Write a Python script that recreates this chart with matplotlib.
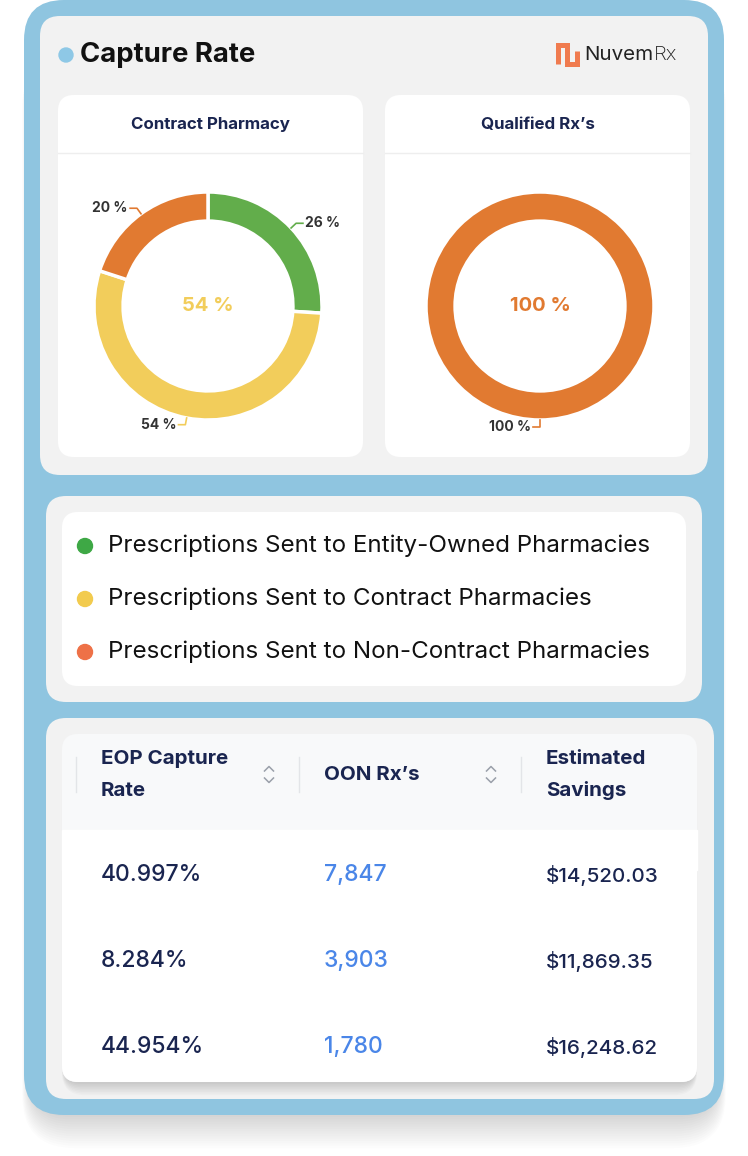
import numpy as np
import matplotlib
matplotlib.use('Agg')
from matplotlib import pyplot as plt
from matplotlib.patches import FancyBboxPatch, Circle

plt.rcParams['font.family'] = ['Inter', 'DejaVu Sans']

# data
contract_values = [26, 54, 20]
contract_colors = ['#62AD4B', '#F2CD5B', '#E17A31']
qualified_values = [100]
qualified_colors = ['#E17A31']
legend_labels = ['Prescriptions Sent to Entity-Owned Pharmacies',
                 'Prescriptions Sent to Contract Pharmacies',
                 'Prescriptions Sent to Non-Contract Pharmacies']
legend_colors = ['#3EA845', '#F2CB4E', '#EE7147']
table_headers = ['EOP Capture\nRate', 'OON Rx\u2019s', 'Estimated\nSavings']
capture_rates = ['40.997%', '8.284%', '44.954%']
oon_rx = [7847, 3903, 1780]
savings = [14520.03, 11869.35, 16248.62]

NAVY = '#1A2550'
W, H = 748, 1156
fig = plt.figure(figsize=(W / 100, H / 100), dpi=100)
bg = fig.add_axes([0, 0, 1, 1])
bg.set_xlim(0, W)
bg.set_ylim(H, 0)
bg.axis('off')


def rbox(x0, y0, x1, y1, r, color, **kw):
    bg.add_patch(FancyBboxPatch((x0, y0), x1 - x0, y1 - y0,
                                boxstyle=f'round,pad=0,rounding_size={r}',
                                fc=color, ec='none', **kw))


# outer card with soft shadow (mostly below)
for i in range(14):
    rbox(30 - i * 0.6, 40 + i, 718 + i * 0.6, 1117 + i * 2.4, 40 + i, '#000000', alpha=0.010)
rbox(24, 0, 724, 1115, 40, '#8FC5E0')

# top panel
rbox(40, 16, 708, 475, 20, '#F2F2F2')
bg.add_patch(Circle((66, 55), 7, color='#8EC8E6'))
bg.text(80, 55, 'Capture Rate', fontsize=19.8, fontweight='bold', color='#111111', va='center')
# logo
bg.plot([558, 558, 567, 567, 577, 577], [64, 45, 45, 64, 64, 51], color='#F07B4F',
        lw=3.6, solid_joinstyle='miter', solid_capstyle='butt')
t = bg.text(584, 55, 'Nuvem', fontsize=14.8, color='#222222', va='center')
fig.canvas.draw()
ext = t.get_window_extent()
bg.text(584 + ext.width + 0.5, 55, 'Rx', fontsize=14.8, color='#222222', va='center',
        fontweight='light')

cards = [(58, 363, 'Contract Pharmacy'), (385, 690, 'Qualified Rx\u2019s')]
for x0, x1, title in cards:
    rbox(x0, 95, x1, 457, 16, 'white')
    bg.plot([x0, x1], [153, 153], color='#EEEEEE', lw=1)
    bg.text((x0 + x1) / 2, 125, title, fontsize=12.2, fontweight='bold', color=NAVY,
            ha='center', va='center')


def donut(cx, cy, values, colors, center_text, center_color):
    R = 114
    ax = fig.add_axes([(cx - R) / W, 1 - (cy + R) / H, 2 * R / W, 2 * R / H])
    ax.pie(values, colors=colors, startangle=90, counterclock=False, radius=1,
           wedgeprops=dict(width=0.255, edgecolor='white', linewidth=2.5))
    ax.set_xlim(-1, 1)
    ax.set_ylim(-1, 1)
    ax.set_aspect('equal')
    ax.text(0, 0, center_text, fontsize=14.5, fontweight='bold', color=center_color,
            ha='center', va='center')
    total = sum(values)
    start = 90.0
    for v, c in zip(values, colors):
        mid = np.deg2rad(start - v / total * 180)
        start -= v / total * 360
        x, y = np.cos(mid), np.sin(mid)
        side = 1 if x > 0.01 else -1
        x2, y2 = 1.06 * x, 1.06 * y
        x3 = x2 + side * 0.06
        ax.plot([x, x2, x3], [y, y2, y2], color=c, lw=1.2, clip_on=False)
        ax.text(x3 + side * 0.02, y2, f'{v} %', fontsize=10, fontweight='bold',
                color='#333333', ha='left' if side > 0 else 'right', va='center')


donut(208, 306, contract_values, contract_colors, f'{contract_values[1]} %', contract_colors[1])
donut(540, 306, qualified_values, qualified_colors, f'{qualified_values[0]} %', qualified_colors[0])

# legend panel
rbox(46, 496, 702, 702, 20, '#F2F2F2')
rbox(62, 512, 686, 686, 16, 'white')
for i, (lab, col) in enumerate(zip(legend_labels, legend_colors)):
    y = 546 + i * 53
    bg.add_patch(Circle((85, y), 7.5, color=col))
    bg.text(108, y, lab, fontsize=17.4, color='#111111', va='center')

# table panel
rbox(46, 718, 714, 1099, 20, '#F2F2F2')
for i in range(8):
    rbox(64 - i * 0.3, 760 + i, 695 + i * 0.3, 1084 + i * 1.6, 16 + i, '#000000', alpha=0.018)
rbox(62, 734, 697, 1082, 16, '#F8F9FA')
rbox(62, 830, 697, 1082, 16, 'white')
bg.add_patch(plt.Rectangle((62, 830), 635, 40, color='white'))

col_x = [101, 324, 546]
for x, hdr in zip(col_x, table_headers):
    bg.plot([x - 25, x - 25], [757, 792], color='#E3E5E8', lw=1)
    lines = hdr.split('\n')
    if len(lines) == 2:
        bg.text(x, 759, lines[0], fontsize=14.8, fontweight='bold', color=NAVY, va='center')
        bg.text(x, 791, lines[1], fontsize=14.8, fontweight='bold', color=NAVY, va='center')
    else:
        bg.text(x, 775, lines[0], fontsize=14.8, fontweight='bold', color=NAVY, va='center')
for sx in [269, 491]:
    bg.plot([sx - 4.5, sx, sx + 4.5], [771, 766.5, 771], color='#9AA0AA', lw=1.1)
    bg.plot([sx - 4.5, sx, sx + 4.5], [778, 782.5, 778], color='#9AA0AA', lw=1.1)

for i in range(len(capture_rates)):
    y = 875 + i * 86
    bg.text(col_x[0], y, capture_rates[i], fontsize=16.5, fontweight='medium', color=NAVY, va='center')
    bg.text(col_x[1], y, f'{oon_rx[i]:,}', fontsize=16.5, fontweight='medium', color='#4A86E8', va='center')
    bg.text(col_x[2], y, f'${savings[i]:,.2f}', fontsize=14.8, fontweight='medium', color=NAVY, va='center')

fig.savefig('out.png', dpi=100)
